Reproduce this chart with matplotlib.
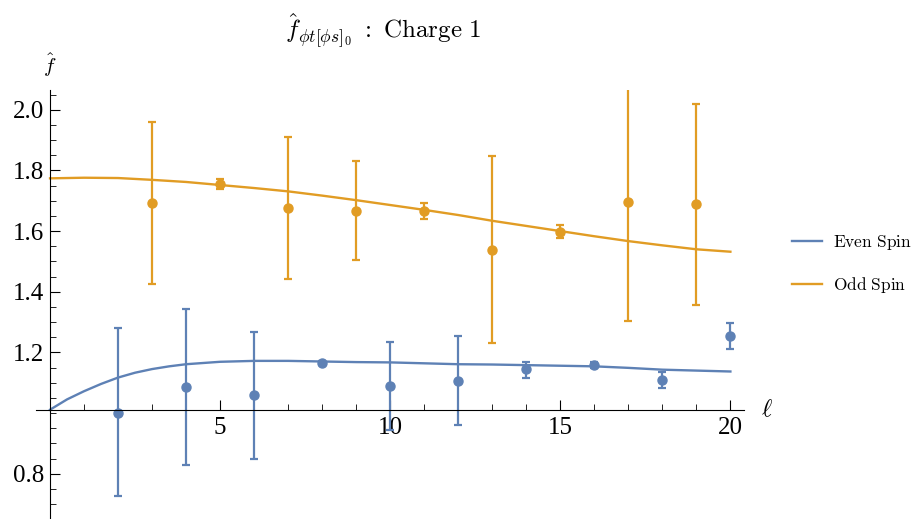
import numpy as np
import matplotlib
matplotlib.use('Agg')
import matplotlib.pyplot as plt
from matplotlib.ticker import FixedLocator, MultipleLocator, FormatStrFormatter

plt.rcParams['font.family'] = 'serif'
plt.rcParams['font.serif'] = ['Liberation Serif']
plt.rcParams['mathtext.fontset'] = 'cm'

# even spin data
even_l = [2, 4, 6, 8, 10, 12, 14, 16, 18, 20]
even_f = [1.000, 1.086, 1.059, 1.165, 1.088, 1.106, 1.145, 1.159, 1.109, 1.253]
even_lo = [0.725, 0.830, 0.849, 1.160, 0.944, 0.959, 1.117, 1.150, 1.084, 1.210]
even_hi = [1.280, 1.344, 1.268, 1.170, 1.233, 1.255, 1.169, 1.168, 1.134, 1.297]

# odd spin data
odd_l = [3, 5, 7, 9, 11, 13, 15, 17, 19]
odd_f = [1.692, 1.756, 1.675, 1.667, 1.665, 1.539, 1.598, 1.695, 1.688]
odd_lo = [1.426, 1.738, 1.443, 1.504, 1.640, 1.232, 1.576, 1.303, 1.355]
odd_hi = [1.959, 1.772, 1.909, 1.832, 1.692, 1.846, 1.620, 2.100, 2.018]

# fitted curves
even_fit_l = [0, 0.5, 1, 1.5, 2, 2.5, 3, 3.5, 4, 5, 6, 7, 8, 9, 10,
              11, 12, 13, 14, 15, 16, 17, 18, 19, 20]
even_fit = [1.011, 1.045, 1.072, 1.096, 1.117, 1.133, 1.145, 1.154, 1.161, 1.169,
            1.172, 1.172, 1.170, 1.168, 1.167, 1.164, 1.161, 1.160, 1.158, 1.156,
            1.154, 1.149, 1.143, 1.140, 1.137]
odd_fit_l = list(range(0, 21))
odd_fit = [1.774, 1.776, 1.775, 1.769, 1.762, 1.752, 1.742, 1.731, 1.717, 1.702,
           1.686, 1.670, 1.653, 1.634, 1.617, 1.600, 1.583, 1.567, 1.553, 1.540, 1.532]

blue = '#5E81B5'
orange = '#E19C24'

fig = plt.figure(figsize=(9.13, 5.19), dpi=100)
ax = fig.add_axes([0.0399, 0.002, 0.775, 0.825])

series = [
    (even_l, even_f, even_lo, even_hi, even_fit_l, even_fit, blue, 'Even Spin'),
    (odd_l, odd_f, odd_lo, odd_hi, odd_fit_l, odd_fit, orange, 'Odd Spin'),
]
for l, f, lo, hi, fl, fit, c, name in series:
    f = np.array(f)
    yerr = [f - np.array(lo), np.array(hi) - f]
    ax.errorbar(l, f, yerr=yerr, fmt='o', color=c, ms=6.5, elinewidth=1.6,
                capsize=3, capthick=1.6)
    ax.plot(fl, fit, color=c, lw=1.7,
            label=r'$\mathrm{' + name.replace(' ', r'\ ') + '}$')

ax.set_xlim(-0.4, 20.4)
ax.set_ylim(0.654, 2.066)

for s in ['top', 'right']:
    ax.spines[s].set_visible(False)
ax.spines['left'].set_position(('data', 0))
ax.spines['bottom'].set_position(('data', 1.011))

ax.xaxis.set_major_locator(FixedLocator([5, 10, 15, 20]))
ax.xaxis.set_minor_locator(MultipleLocator(1))
ax.yaxis.set_major_locator(FixedLocator([0.8, 1.2, 1.4, 1.6, 1.8, 2.0]))
ax.yaxis.set_minor_locator(MultipleLocator(0.05))
ax.yaxis.set_major_formatter(FormatStrFormatter('%.1f'))

ax.tick_params(which='both', direction='in', labelsize=18)
ax.tick_params(which='major', length=7)
ax.tick_params(which='minor', length=4)
ax.tick_params(axis='x', pad=5)
ax.tick_params(axis='y', pad=4)

ax.text(0, 2.1, r'$\hat{f}$', fontsize=15, ha='center', va='bottom', clip_on=False)
ax.text(20.9, 1.011, r'$\ell$', fontsize=18, ha='left', va='center', clip_on=False)
fig.text(0.42, 0.94, r'$\hat{f}_{\phi t[\phi s]_0}\ :\ \mathrm{Charge\ 1}$',
         fontsize=18, ha='center', va='center')

fig.legend(loc='center left', bbox_to_anchor=(0.868, 0.491), frameon=False,
           fontsize=12.5, handlelength=1.7, handletextpad=0.65, labelspacing=1.35,
           borderpad=0, borderaxespad=0)

fig.savefig('out.png', dpi=100)
